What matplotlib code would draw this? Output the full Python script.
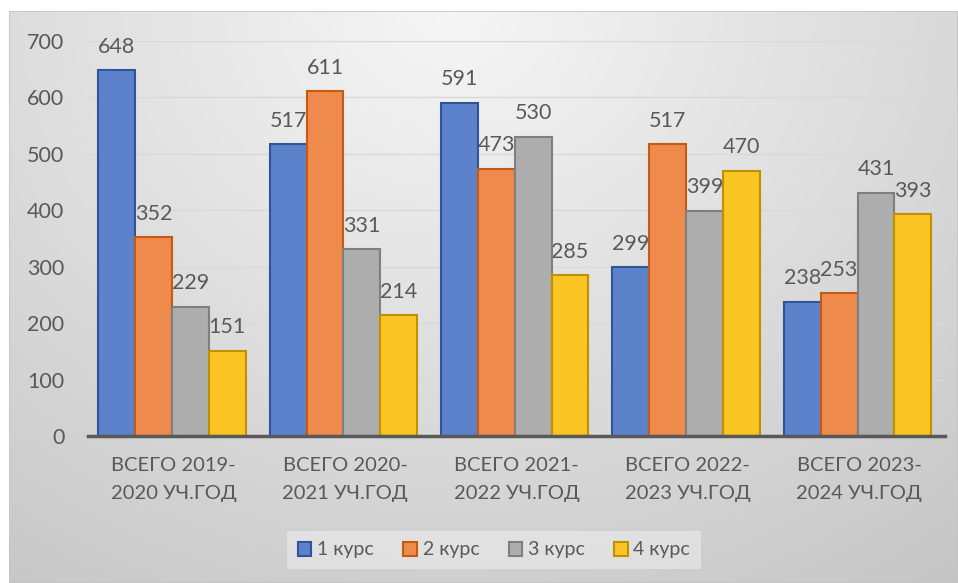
import numpy as np
import matplotlib.pyplot as plt
from matplotlib.patches import Rectangle

plt.rcParams['font.family'] = ['Lato', 'Open Sans', 'DejaVu Sans']

categories = ['ВСЕГО 2019-\n2020 УЧ.ГОД', 'ВСЕГО 2020-\n2021 УЧ.ГОД', 'ВСЕГО 2021-\n2022 УЧ.ГОД',
              'ВСЕГО 2022-\n2023 УЧ.ГОД', 'ВСЕГО 2023-\n2024 УЧ.ГОД']
series = ['1 курс', '2 курс', '3 курс', '4 курс']
kurs1 = [648, 517, 591, 299, 238]
kurs2 = [352, 611, 473, 517, 253]
kurs3 = [229, 331, 530, 399, 431]
kurs4 = [151, 214, 285, 470, 393]
yticks = [0, 100, 200, 300, 400, 500, 600, 700]

fills = ['#5b82cb', '#ee8a4c', '#adadad', '#fac423']
edges = ['#2f5597', '#c55a11', '#7f7f7f', '#bf9000']
txt = '#595959'

W, H = 958, 583
fig = plt.figure(figsize=(W / 100, H / 100), dpi=100)
fig.patch.set_facecolor('white')

# gradient background of the chart area
bg = fig.add_axes([9 / W, 0, 1 - 9 / W, 1 - 11 / H])
bg.set_axis_off()
yy, xx = np.mgrid[0:572, 0:949]
d = np.sqrt(((xx - 440) / 700.0) ** 2 + (yy / 600.0) ** 2)
v = np.clip(0.965 - 0.16 * d, 0, 1)
bg.imshow(np.dstack([v, v, v]), aspect='auto', extent=[0, 1, 0, 1], origin='upper')
bg.add_patch(Rectangle((0, 0), 1, 1, transform=bg.transAxes, fill=False,
                       edgecolor='#c4c4c4', linewidth=1.2))

ax = fig.add_axes([88 / W, 1 - 436 / H, (945 - 88) / W, (436 - 41) / H])
ax.patch.set_alpha(0)

x = np.arange(len(categories))
bw = 0.215
data = [kurs1, kurs2, kurs3, kurs4]
for i, vals in enumerate(data):
    pos = x + (i - 1.5) * bw - 0.01
    ax.bar(pos, vals, bw, color=fills[i], edgecolor=edges[i], linewidth=1.5,
           label=series[i], zorder=3)
    for px, val in zip(pos, vals):
        ax.annotate(str(val), (px, val), xytext=(0, 17), textcoords='offset points',
                    ha='center', va='center', fontsize=15.5, color=txt, zorder=2)

ax.set_xlim(-0.5, len(categories) - 0.5)
ax.set_ylim(0, 700)
ax.set_yticks(yticks)
ax.set_xticks(x)
ax.set_xticklabels(categories, fontsize=14.5, color=txt, linespacing=1.8)
ax.tick_params(axis='y', length=0, labelsize=15.5, labelcolor=txt, pad=17)
ax.tick_params(axis='x', length=0, pad=15)
ax.grid(axis='y', color='#d9d9d9', linewidth=1, zorder=1)
ax.set_axisbelow(True)
for s in ['top', 'right', 'left']:
    ax.spines[s].set_visible(False)
ax.spines['bottom'].set_color('#595959')
ax.spines['bottom'].set_linewidth(2.5)
ax.spines['bottom'].set_zorder(4)

leg = fig.legend(loc='center', bbox_to_anchor=(494 / W, 1 - 550 / H), ncol=4,
                 frameon=True, fontsize=14, handlelength=0.7, handleheight=0.7,
                 handletextpad=0.3, columnspacing=1.5, borderpad=0.55, fancybox=False)
leg.get_frame().set_facecolor('#ffffff')
leg.get_frame().set_alpha(0.35)
leg.get_frame().set_edgecolor('none')
for t in leg.get_texts():
    t.set_color(txt)

fig.savefig('out.png', dpi=100)
